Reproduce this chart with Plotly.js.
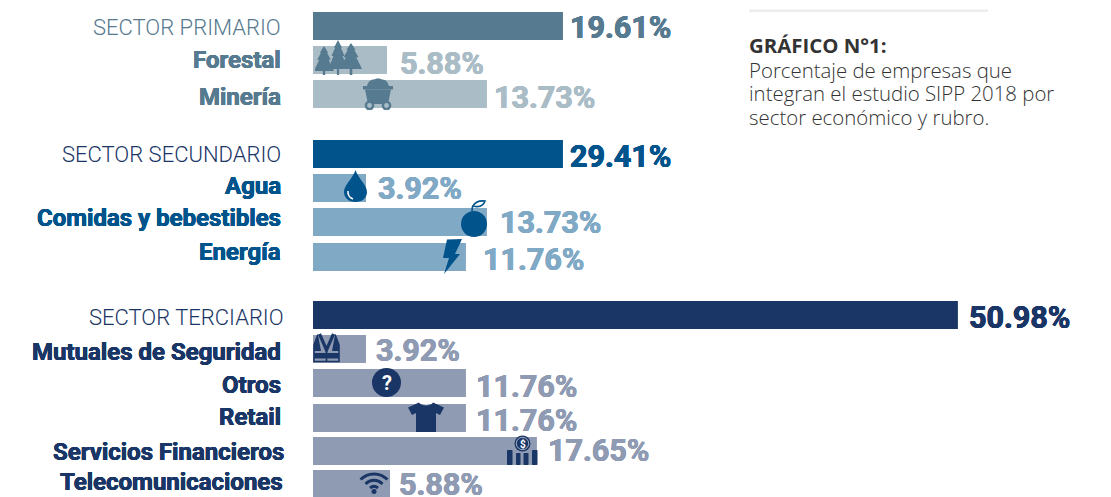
<!DOCTYPE html>
<html><head><meta charset="utf-8">
<script src="https://cdn.plot.ly/plotly-3.0.1.min.js"></script>
<style>html,body{margin:0;padding:0;background:#fff;overflow:hidden}#c{width:1111px;height:497px}</style>
</head><body><div id="c"></div>
<script>
// ---- data ----
const categories = ["SECTOR PRIMARIO","Forestal","Minería","SECTOR SECUNDARIO","Agua","Comidas y bebestibles","Energía","SECTOR TERCIARIO","Mutuales de Seguridad","Otros","Retail","Servicios Financieros","Telecomunicaciones"];
const valueLabels = ["19.61%","5.88%","13.73%","29.41%","3.92%","13.73%","11.76%","50.98%","3.92%","11.76%","11.76%","17.65%","5.88%"];
// drawn length of every bar, in percentage units of the axis (the original draws SECTOR SECUNDARIO shorter than its label)
const drawnLengths = [19.76,5.85,13.75,19.76,4.19,13.75,12.09,50.98,4.19,12.09,12.09,17.7,6.09];
// ---- layout (pixels on the reversed y axis, and value-label gaps) ----
const barCentres = [26,60,94,154,188,222,257,315,349,383,418,451,484];
const barColours = ["#567a8f","#aabdc7","#aabdc7","#00538b","#80a9c6","#80a9c6","#80a9c6","#1a3666","#8f9bb3","#8f9bb3","#8f9bb3","#8f9bb3","#8f9bb3"];
const catColours = ["#567a8f","#567a8f","#567a8f","#1a3666","#00538b","#00538b","#00538b","#1a3666","#1a3666","#1a3666","#1a3666","#1a3666","#1a3666"];
const valColours = ["#567a8f","#aabdc7","#aabdc7","#00538b","#80a9c6","#80a9c6","#80a9c6","#1a3666","#8f9bb3","#8f9bb3","#8f9bb3","#8f9bb3","#8f9bb3"];
const catRight = [282,282,282,282,282,282,282,285,282,282,282,285,284];
const catY = [27,60,97,154,186,218,252,317,352,385,417,452,482];
const valLeft = [569,399,493,569,377,499,482,968,375,475,475,547,398];
const valY = [27,63,97,156,188,222,259,317,350,386,420,450,484];
const sectorIdx = [0,3,7];
const noteTitle = "GRÁFICO N°1:";
const noteLines = ["Porcentaje de empresas que","integran el estudio SIPP 2018 por","sector económico y rubro."];

const PX = 12.65, X0 = 313;
const xd = p => (p - X0) / PX;
const svg = (w,h,body) => "data:image/svg+xml," + encodeURIComponent(
  `<svg xmlns="http://www.w3.org/2000/svg" width="${w*4}" height="${h*4}" viewBox="0 0 ${w} ${h}">${body}</svg>`);

function tree(cx, top, hw, fh, bot, col){
  const t = v => (top + v*fh).toFixed(1), l = v => (cx - v*hw).toFixed(1), r = v => (cx + v*hw).toFixed(1);
  return `<path fill="${col}" d="M${cx} ${top}L${r(.42)} ${t(.27)}L${r(.3)} ${t(.27)}L${r(.68)} ${t(.55)}L${r(.48)} ${t(.55)}L${r(1)} ${t(1)}L${r(.12)} ${t(1)}L${r(.12)} ${bot}L${l(.12)} ${bot}L${l(.12)} ${t(1)}L${l(1)} ${t(1)}L${l(.48)} ${t(.55)}L${l(.68)} ${t(.55)}L${l(.3)} ${t(.27)}L${l(.42)} ${t(.27)}Z"/>`;
}
const G="#567a8f", GL="#aabdc7", B="#00538b", N="#1a3666";
const icons = [
 {x:315,y:40,w:47,h:35,src:svg(47,35, tree(9,6,10,25,35,G)+tree(36,3,11,26,35,G)+tree(23,0,9.5,29,35,G))},
 {x:363,y:78,w:30,h:32,src:svg(30,32,
   `<path d="M4 8C5 3 9 1 11 1.5C13 0 17 0 19 1.5C22 1 25 4 26 8Z" fill="${G}"/>
    <rect x="0" y="8" width="30" height="3.5" fill="${G}"/><path d="M2 11.5H28L25 26H5Z" fill="${G}"/>
    <circle cx="6.5" cy="27.5" r="3.6" fill="${GL}" stroke="${G}" stroke-width="2.4"/><circle cx="23.5" cy="27.5" r="3.6" fill="${GL}" stroke="${G}" stroke-width="2.4"/>`)},
 {x:344,y:170,w:23,h:32,src:svg(23,32,
   `<path d="M11.5 0C9 8 0 15 0 22C0 28 5 32 11.5 32C18 32 23 28 23 22C23 15 14 8 11.5 0Z" fill="${B}"/>
    <path d="M4 21C3.5 25 6 28 9 29" fill="none" stroke="#fff" stroke-width="1.6"/>`)},
 {x:460,y:200,w:28,h:37,src:svg(28,37,
   `<circle cx="14" cy="24" r="13" fill="${B}"/><path d="M12 11C12 9 12 7 13 5.5" fill="none" stroke="${B}" stroke-width="1.6"/>
    <path d="M13 6C15 2 20 .5 25 1C24 4 21 8 13 6Z" fill="#fff" stroke="${B}" stroke-width="1.6"/>`)},
 {x:443,y:239,w:19,h:35,src:svg(19,35,`<path d="M4 .5L19 0L12 15H17L1 35L6 19H0Z" fill="${B}"/>`)},
 {x:313,y:333,w:27,h:30,src:svg(27,30,
   `<path d="M5 1.5L1 12V28.5H26V12L22 1.5" fill="none" stroke="${N}" stroke-width="1.6"/>
    <path d="M6.5 1L13.5 17L20.5 1" fill="none" stroke="${N}" stroke-width="3.2"/><path d="M13.5 17V28" stroke="${N}" stroke-width="1.6"/>
    <path d="M5 2L8 18H1V12Z" fill="${N}"/><path d="M22 2L19 18H26V12Z" fill="${N}"/>
    <rect x="1" y="20" width="25" height="5.5" fill="${N}"/>`)},
 {x:372,y:368,w:29,h:29,src:svg(29,29,`<circle cx="14.5" cy="14.5" r="14.5" fill="${N}"/>`)},
 {x:408,y:401,w:36,h:31,src:svg(36,31,
   `<path d="M11 1.5C13 5.5 23 5.5 25 1.5L36 6.5L32 14L28 12V31H8V12L4 14L0 6.5Z" fill="${N}"/><path d="M12 .5C14 4 22 4 24 .5" fill="none" stroke="#fff" stroke-width="1"/>`)},
 {x:507,y:435,w:31,h:30,src:svg(31,30,
   `<rect x="0" y="15" width="5.5" height="15" rx=".8" fill="${N}"/><rect x="9" y="18" width="4.5" height="12" rx=".8" fill="${N}"/><rect x="16.5" y="18" width="5" height="12" rx=".8" fill="${N}"/><rect x="25" y="15" width="5.5" height="15" rx=".8" fill="${N}"/>
    <circle cx="15.5" cy="8.5" r="8" fill="${N}"/><circle cx="15.5" cy="8.5" r="6.2" fill="none" stroke="#fff" stroke-width=".6"/>`)},
 {x:359,y:471,w:30,h:23,src:svg(30,23,
   `<g fill="none" stroke="${N}" stroke-width="3"><path d="M1.5 8.5C9 1 21 1 28.5 8.5"/><path d="M6.5 13C11.5 8 18.5 8 23.5 13"/><path d="M11 17C13.5 15 16.5 15 19 17"/></g><circle cx="15" cy="20.5" r="2.5" fill="${N}"/>`)}
];

const heavy = (c,w) => `${w}px 0 0 ${c}, -${w}px 0 0 ${c}, 0 ${w}px 0 ${c}, 0 -${w}px 0 ${c}`;
const annotations = [];
categories.forEach((t,i)=>{
  const sector = sectorIdx.includes(i);
  annotations.push({x:xd(catRight[i]),y:catY[i],xref:"x",yref:"y",xanchor:"right",yanchor:"middle",showarrow:false,borderpad:0,text:t,
    font: sector ? {family:"Roboto",size:22,weight:300,color:catColours[i]} : {family:"Roboto",size:24,weight:700,color:catColours[i],shadow:heavy(catColours[i],0.35)}});
});
valueLabels.forEach((t,i)=>{
  annotations.push({x:xd(valLeft[i]),y:valY[i],xref:"x",yref:"y",xanchor:"left",yanchor:"middle",showarrow:false,borderpad:0,text:t,
    font:{family:"Roboto",size:30.5,weight:700,color:valColours[i],shadow:heavy(valColours[i],0.45)}});
});
annotations.push({x:xd(386.5),y:382.5,xref:"x",yref:"y",xanchor:"center",yanchor:"middle",showarrow:false,borderpad:0,text:"?",font:{family:"Roboto",size:20,weight:700,color:"#ffffff"}});
annotations.push({x:xd(522.5),y:443.5,xref:"x",yref:"y",xanchor:"center",yanchor:"middle",showarrow:false,borderpad:0,text:"$",font:{family:"Roboto",size:10,weight:700,color:"#ffffff"}});

// side note: one text block, so it keeps the original's tight line spacing
annotations.push({x:xd(748),y:29.5,xref:"x",yref:"y",xanchor:"left",yanchor:"top",align:"left",showarrow:false,borderpad:0,
  text:`<b>${noteTitle}</b><br>${noteLines.join("<br>")}`,
  font:{family:"Open Sans",size:20.4,weight:300,color:"#333333"}});

Plotly.newPlot("c",[{
  type:"bar",orientation:"h",x:drawnLengths,y:barCentres,base:0,width:28,
  marker:{color:barColours,line:{width:0}},hoverinfo:"skip",text:null
}],{
  width:1111,height:497,margin:{l:0,r:0,t:0,b:0},showlegend:false,
  paper_bgcolor:"#fff",plot_bgcolor:"#fff",
  xaxis:{range:[xd(0),xd(1111)],visible:false,fixedrange:true},
  yaxis:{range:[497,0],visible:false,fixedrange:true},
  annotations,
  shapes:[{type:"rect",xref:"x",yref:"y",x0:xd(749),x1:xd(988),y0:9.5,y1:12,fillcolor:"#ececec",line:{width:0}}],
  images:icons.map(c=>({source:c.src,xref:"x",yref:"y",x:xd(c.x),y:c.y,sizex:c.w/PX,sizey:c.h,sizing:"stretch",layer:"above",xanchor:"left",yanchor:"top"}))
},{displayModeBar:false,staticPlot:true}).then(()=>{
  const offsets = [0,24.5,48,71.5];
  document.querySelectorAll(".annotation-text").forEach(t=>{
    if(!t.textContent.startsWith(noteTitle)) return;
    t.querySelectorAll("tspan.line").forEach((s,i)=>s.setAttribute("dy",offsets[i]+"px"));
  });
});
</script></body></html>
